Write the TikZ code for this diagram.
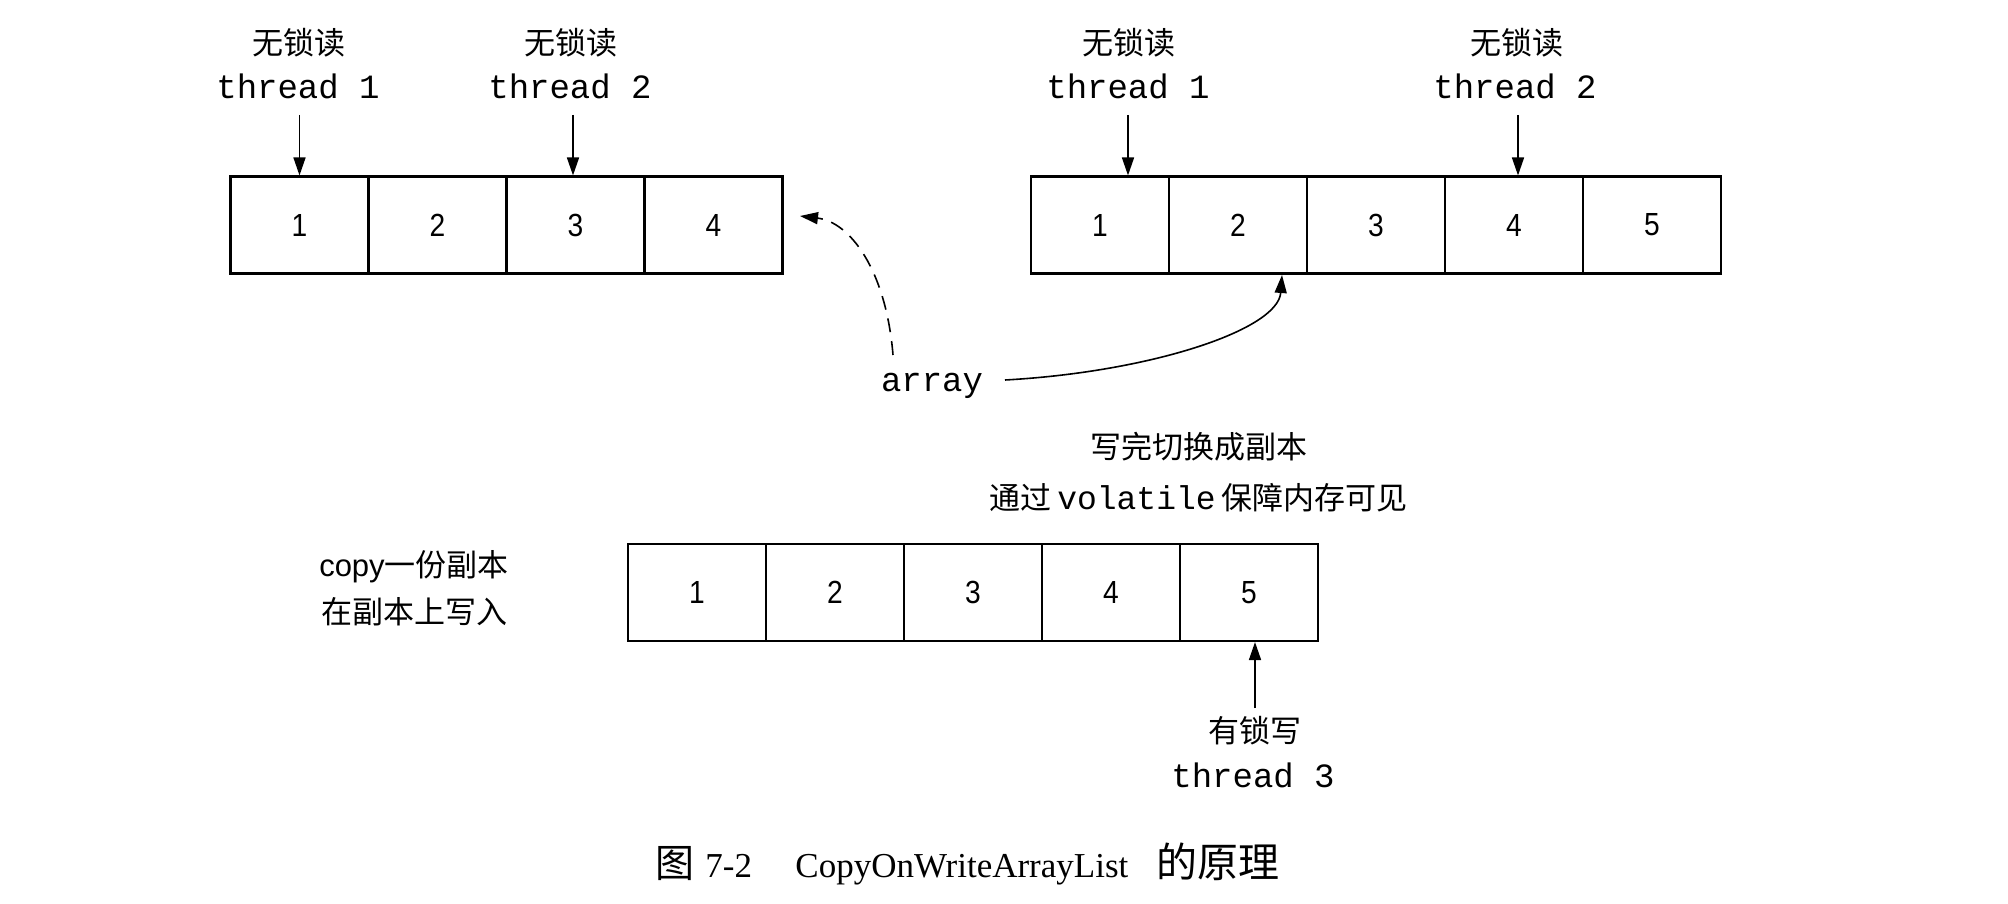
\documentclass[tikz,border=0pt]{standalone}
\usepackage{fontspec}
\setmainfont{Liberation Serif}
\newfontfamily\cjk{Noto Sans CJK SC}
\newfontfamily\mono{Liberation Mono}
\newfontfamily\sansf{Liberation Sans}
\newfontfamily\digitf[FakeStretch=0.88]{Liberation Sans}
\usetikzlibrary{arrows.meta}
\begin{document}
\begin{tikzpicture}[x=0.5pt,y=-0.5pt,
  cellbox/.style={draw, line width=1.05pt, minimum width=69pt, minimum height=48.5pt, inner sep=0pt,
    font=\digitf\fontsize{16}{18}\selectfont},
  cnlabel/.style={inner sep=0pt, font=\cjk\fontsize{15.5}{18}\selectfont},
  monolabel/.style={inner sep=0pt, font=\mono\fontsize{17}{20}\selectfont},
  capcn/.style={inner sep=0pt, anchor=base west, font=\cjk\fontsize{19.5}{22}\selectfont},
  capen/.style={inner sep=0pt, anchor=base west, font=\fontsize{17.5}{20}\selectfont},
  arr/.style={line width=0.8pt, -{Triangle[length=9pt,width=6pt]}}]
\useasboundingbox (0,0) rectangle (2008,904);

% top-left array
\node[cellbox] (a1) at (299.5,225) {1};
\node[cellbox] (a2) at (437.5,225) {2};
\node[cellbox] (a3) at (575.5,225) {3};
\node[cellbox] (a4) at (713.5,225) {4};

% top-right array
\node[cellbox] (b1) at (1100,225) {1};
\node[cellbox] (b2) at (1238,225) {2};
\node[cellbox] (b3) at (1376,225) {3};
\node[cellbox] (b4) at (1514,225) {4};
\node[cellbox] (b5) at (1652,225) {5};

% bottom array
\node[cellbox] (c1) at (697,592.5) {1};
\node[cellbox] (c2) at (835,592.5) {2};
\node[cellbox] (c3) at (973,592.5) {3};
\node[cellbox] (c4) at (1111,592.5) {4};
\node[cellbox] (c5) at (1249,592.5) {5};

% readers, top-left
\node[cnlabel] (r1) at (299,43) {无锁读};
\node[monolabel] (t1) at (298,86) {thread 1};
\node[cnlabel] (r2) at (571,43) {无锁读};
\node[monolabel] (t2) at (570,86) {thread 2};
\coordinate (s1) at (299.5,115);
\coordinate (s2) at (573,115);
\draw[arr] (s1) -- (s1 |- a1.north);
\draw[arr] (s2) -- (s2 |- a3.north);

% readers, top-right
\node[cnlabel] (r3) at (1129,43) {无锁读};
\node[monolabel] (t3) at (1128,86) {thread 1};
\node[cnlabel] (r4) at (1517,43) {无锁读};
\node[monolabel] (t4) at (1515,86) {thread 2};
\coordinate (s3) at (1128,115);
\coordinate (s4) at (1518,115);
\draw[arr] (s3) -- (s3 |- b1.north);
\draw[arr] (s4) -- (s4 |- b4.north);

% array reference
\node[monolabel] (arr) at (932,386) {array};
\coordinate (dstart) at (893,355);
\coordinate (dtip) at (800,216);
\draw[arr, dash pattern=on 7pt off 4.5pt] (dstart) .. controls (886,270) and (850,222) .. (dtip);
\coordinate (sstart) at (1005,380);
\coordinate (stip) at (1282,275);
\draw[arr] (sstart) .. controls (1150,372) and (1278,330) .. (stip);

% switch note
\node[cnlabel] (sw) at (1199,447) {写完切换成副本};
\node[inner sep=0pt] (vol) at (1198.5,498) {{\cjk\fontsize{15.5}{18}\selectfont 通过}\hspace{3pt}{\mono\fontsize{16.5}{20}\selectfont volatile}\hspace{3pt}{\cjk\fontsize{15.5}{18}\selectfont 保障内存可见}};

% copy note
\node[inner sep=0pt] (cp1) at (414,567) {{\sansf\fontsize{15.5}{18}\selectfont copy}{\cjk\fontsize{15.5}{18}\selectfont 一份副本}};
\node[cnlabel] (cp2) at (414,612) {在副本上写入};

% writer
\node[cnlabel] (w) at (1255,731) {有锁写};
\node[monolabel] (t5) at (1253,775) {thread 3};
\coordinate (s5) at (1255,708);
\draw[arr] (s5) -- (s5 |- c5.south);

% caption
\node[capcn] (cap1) at (655,877) {图};
\node[capen] (cap2) at (705,877) {7-2};
\node[capen] (cap3) at (795,877) {CopyOnWriteArrayList};
\node[capcn] (cap4) at (1156,877) {\fontsize{20.5}{22}\selectfont 的原理};
\end{tikzpicture}
\end{document}
